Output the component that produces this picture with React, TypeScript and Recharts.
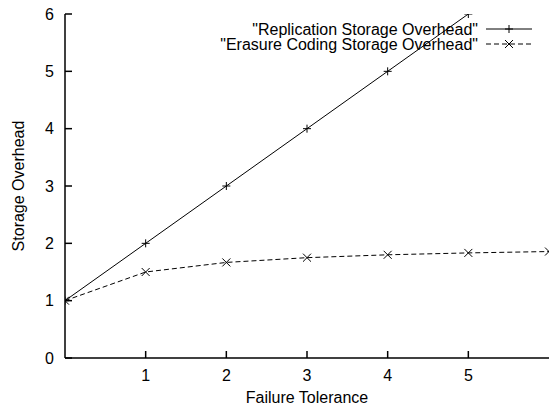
import React from 'react';
import { LineChart, Line, XAxis, YAxis, Legend } from 'recharts';

const failureTolerance = [0, 1, 2, 3, 4, 5, 6];
const replicationOverhead = [1, 2, 3, 4, 5, 6, null];
const erasureOverhead = [1, 1.5, 1.667, 1.75, 1.8, 1.833, 1.857];
const xTicks = [1, 2, 3, 4, 5];
const yTicks = [0, 1, 2, 3, 4, 5, 6];
const mirrorYTicks = [1, 2, 3, 4, 5];
const seriesNames = ['"Replication Storage Overhead"', '"Erasure Coding Storage Overhead"'];

const data = failureTolerance.map((x, i) => ({
  x,
  rep: replicationOverhead[i],
  ec: erasureOverhead[i],
}));

const FONT = '"Liberation Sans", Arial, Helvetica, sans-serif';
const FS = 16;
const TICK = 7;

const BottomTick = (props: any) => {
  const { x, y, payload } = props;
  return (
    <g>
      <line x1={x} y1={y} x2={x} y2={y - TICK} stroke="#000" strokeWidth={1.5} />
      <text x={x} y={y + 17} textAnchor="middle" dominantBaseline="central" fontFamily={FONT} fontSize={FS} fill="#000">
        {payload.value}
      </text>
    </g>
  );
};

const TopTick = (props: any) => {
  const { x, y } = props;
  return <line x1={x} y1={y} x2={x} y2={y + TICK} stroke="#000" strokeWidth={1.5} />;
};

const LeftTick = (props: any) => {
  const { x, y, payload } = props;
  return (
    <g>
      <line x1={x} y1={y} x2={x + TICK} y2={y} stroke="#000" strokeWidth={1.5} />
      <text x={x - 11} y={y} textAnchor="end" dominantBaseline="central" fontFamily={FONT} fontSize={FS} fill="#000">
        {payload.value}
      </text>
    </g>
  );
};

const RightTick = (props: any) => {
  const { x, y } = props;
  return <line x1={x} y1={y} x2={x - TICK} y2={y} stroke="#000" strokeWidth={1.5} />;
};

const PlusDot = (props: any) => {
  const { cx, cy, value } = props;
  if (cx == null || cy == null || value == null) return null;
  const s = 4;
  return (
    <path d={`M${cx - s},${cy}H${cx + s}M${cx},${cy - s}V${cy + s}`} stroke="#000" strokeWidth={1} fill="none" />
  );
};

const CrossDot = (props: any) => {
  const { cx, cy, value } = props;
  if (cx == null || cy == null || value == null) return null;
  const s = 4;
  return (
    <path d={`M${cx - s},${cy - s}L${cx + s},${cy + s}M${cx - s},${cy + s}L${cx + s},${cy - s}`} stroke="#000" strokeWidth={1} fill="none" />
  );
};

const XLabel = (props: any) => {
  const { viewBox } = props;
  return (
    <text x={viewBox.x + viewBox.width / 2} y={viewBox.y + 39} textAnchor="middle" dominantBaseline="central" fontFamily={FONT} fontSize={FS} fill="#000">
      Failure Tolerance
    </text>
  );
};

const YLabel = (props: any) => {
  const { viewBox } = props;
  const cy = viewBox.y + viewBox.height / 2;
  const cx = 18;
  return (
    <text x={cx} y={cy} transform={`rotate(-90 ${cx} ${cy})`} textAnchor="middle" dominantBaseline="central" fontFamily={FONT} fontSize={FS} fill="#000">
      Storage Overhead
    </text>
  );
};

const KeyContent = () => {
  const textRight = 478;
  const x1 = 486;
  const x2 = 532;
  const mid = (x1 + x2) / 2;
  const rows = [29, 44];
  return (
    <svg width={550} height={60} style={{ position: 'absolute', left: 0, top: 0 }}>
      <text x={textRight} y={rows[0]} textAnchor="end" dominantBaseline="central" fontFamily={FONT} fontSize={FS} fill="#000">
        {seriesNames[0]}
      </text>
      <line x1={x1} y1={rows[0]} x2={x2} y2={rows[0]} stroke="#000" strokeWidth={1} />
      <PlusDot cx={mid} cy={rows[0]} value={1} />
      <text x={textRight} y={rows[1]} textAnchor="end" dominantBaseline="central" fontFamily={FONT} fontSize={FS} fill="#000">
        {seriesNames[1]}
      </text>
      <line x1={x1} y1={rows[1]} x2={x2} y2={rows[1]} stroke="#000" strokeWidth={1} strokeDasharray="5 3" />
      <CrossDot cx={mid} cy={rows[1]} value={1} />
    </svg>
  );
};

export default function App() {
  return (
    <div style={{ position: 'absolute', left: 0, top: 0, width: 550, height: 407, background: '#fff' }}>
      <LineChart width={550} height={407} data={data} margin={{ top: 14, right: 1, left: 0, bottom: 0 }}>
        <XAxis
          xAxisId="bottom"
          dataKey="x"
          type="number"
          domain={[0, 6]}
          ticks={xTicks}
          height={49}
          tickSize={0}
          tickMargin={0}
          tickLine={false}
          tick={<BottomTick />}
          axisLine={{ stroke: '#000', strokeWidth: 1.5 }}
          label={<XLabel />}
          allowDataOverflow
        />
        <XAxis
          xAxisId="top"
          orientation="top"
          dataKey="x"
          type="number"
          domain={[0, 6]}
          ticks={xTicks}
          height={0}
          tickSize={0}
          tickMargin={0}
          tickLine={false}
          tick={<TopTick />}
          axisLine={{ stroke: '#000', strokeWidth: 1.5 }}
          allowDataOverflow
        />
        <YAxis
          yAxisId="left"
          type="number"
          domain={[0, 6]}
          ticks={yTicks}
          width={65}
          tickSize={0}
          tickMargin={0}
          tickLine={false}
          tick={<LeftTick />}
          axisLine={{ stroke: '#000', strokeWidth: 1.5 }}
          label={<YLabel />}
          allowDataOverflow
        />
        <YAxis
          yAxisId="right"
          orientation="right"
          type="number"
          domain={[0, 6]}
          ticks={mirrorYTicks}
          width={0}
          tickSize={0}
          tickMargin={0}
          tickLine={false}
          tick={<RightTick />}
          axisLine={{ stroke: '#000', strokeWidth: 1.5 }}
          allowDataOverflow
        />
        <Legend
          layout="horizontal"
          verticalAlign="middle"
          align="center"
          wrapperStyle={{ position: 'absolute', left: 0, top: 0, width: 550, height: 60, pointerEvents: 'none' }}
          content={<KeyContent />}
        />
        <Line
          xAxisId="bottom"
          yAxisId="left"
          dataKey="rep"
          stroke="#000"
          strokeWidth={1}
          dot={<PlusDot />}
          activeDot={false}
          isAnimationActive={false}
        />
        <Line
          xAxisId="bottom"
          yAxisId="left"
          dataKey="ec"
          stroke="#000"
          strokeWidth={1}
          strokeDasharray="5 3"
          dot={<CrossDot />}
          activeDot={false}
          isAnimationActive={false}
        />
      </LineChart>
    </div>
  );
}
